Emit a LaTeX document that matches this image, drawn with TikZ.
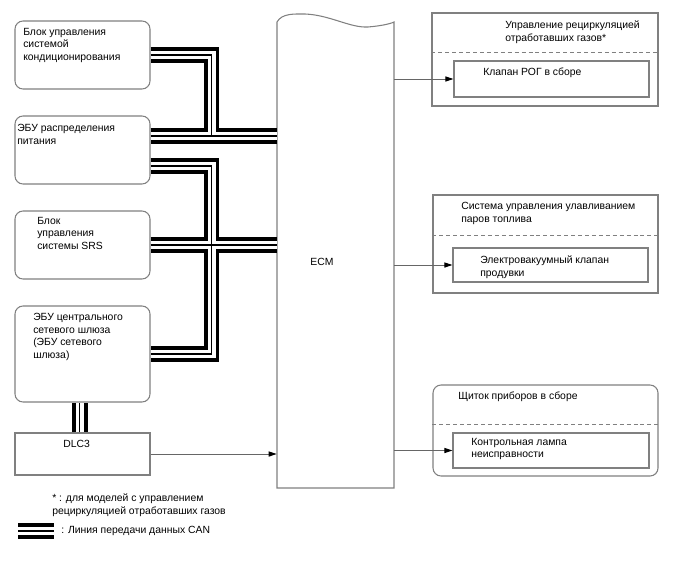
\documentclass[tikz,border=0pt]{standalone}
\usepackage{fontspec}
\setmainfont{Liberation Sans}
\usetikzlibrary{arrows.meta,fit,calc}

\begin{document}
\begin{tikzpicture}[
    x=0.75pt,
    y=-0.75pt,
    every path/.style={line cap=butt,line join=miter},
    unit/.style={draw=black!50,line width=0.8pt,inner sep=0pt},
    softunit/.style={unit,rounded corners=6pt},
    txt/.style={inner sep=0pt,anchor=north west,align=left,
      font=\fontsize{7.8}{9.4}\selectfont},
    sigline/.style={draw=black!60,line width=0.75pt,
      -{Triangle[length=6pt,width=3.8pt,color=black]}},
    divider/.style={draw=black!50,line width=0.75pt,dash pattern=on 3pt off 2.2pt},
    canouter/.style={line width=11.5pt,black},
    canwhite/.style={line width=6pt,white},
    caninner/.style={line width=0.9pt,black}
  ]
    \useasboundingbox (0,0) rectangle (688,560);

    % Control units on the CAN bus.
    \node[softunit,fit={(15,21) (150,89)}] (ac) {};
    \node[softunit,fit={(15,116) (150,184)}] (pwr) {};
    \node[softunit,fit={(15,211) (150,279)}] (srs) {};
    \node[softunit,fit={(15,306) (150,402)}] (gw) {};
    \node[unit,fit={(15,433) (150,475)}] (dlc) {};
    \node[txt] (ac-txt) at (23,28) {Блок управления\\системой\\кондиционирования};
    \node[txt] (pwr-txt) at (17,124) {ЭБУ распределения\\питания};
    \node[txt] (srs-txt) at (37,217) {Блок\\управления\\системы SRS};
    \node[txt] (gw-txt) at (33,313) {ЭБУ центрального\\сетевого шлюза\\(ЭБУ сетевого\\шлюза)};
    \node[txt] (dlc-txt) at (63,440) {DLC3};

    % Engine control module, torn top edge.
    \draw[draw=black!50,line width=0.8pt]
      (277,488) -- (277,22)
      .. controls (282,13) and (295,14) .. (305,14)
      .. controls (330,15) and (350,28) .. (368,27)
      .. controls (380,26) and (390,24) .. (394,22)
      -- (394,488) -- cycle;
    \node[inner sep=0pt,fit={(277,22) (394,488)}] (ecm) {};
    \node[txt,anchor=center] (ecm-txt) at (322,262) {ECM};

    % Controlled systems with their actuators.
    \node[unit,fit={(432,13) (658,106)}] (egr) {};
    \node[unit,fit={(454,61) (649,97)}] (egrv) {};
    \node[unit,fit={(433,195) (658,293)}] (evap) {};
    \node[unit,fit={(453,248) (648,282)}] (vsv) {};
    \node[softunit,fit={(433,385) (658,476)}] (combo) {};
    \node[unit,fit={(453,433) (649,468)}] (mil) {};
    \draw[divider] (egr.west |- 0,53) -- (egr.east |- 0,53);
    \draw[divider] (evap.west |- 0,235) -- (evap.east |- 0,235);
    \draw[divider] (combo.west |- 0,424) -- (combo.east |- 0,424);
    \node[txt] (egr-txt) at (505,21) {Управление рециркуляцией\\отработавших газов*};
    \node[txt] (egrv-txt) at (483,68) {Клапан РОГ в сборе};
    \node[txt] (evap-txt) at (461,202) {Система управления улавливанием\\паров топлива};
    \node[txt] (vsv-txt) at (480,256) {Электровакуумный клапан\\продувки};
    \node[txt] (combo-txt) at (458,392) {Щиток приборов в сборе};
    \node[txt] (mil-txt) at (471,438) {Контрольная лампа\\неисправности};

    % Signal wires.
    \draw[sigline] (dlc.east) -- (dlc.east -| ecm.west);
    \draw[sigline] (egrv.west -| ecm.east) -- (egrv.west);
    \draw[sigline] (vsv.west -| ecm.east) -- (vsv.west);
    \draw[sigline] (mil.west -| ecm.east) -- (mil.west);

    % CAN bus, drawn in three passes so that joints merge.
    \coordinate (key-a) at (18,531);
    \coordinate (key-b) at (54,531);
    \foreach \layer in {canouter,canwhite,caninner}{%
      \draw[\layer] (ac.east) -| ($(pwr.east)+(61,-14)$);
      \draw[\layer] ($(pwr.east)+(0,-14)$) -- ($(pwr.east -| ecm.west)+(0,-14)$);
      \draw[\layer] ($(pwr.east)+(0,16)$) -| ($(gw.east)+(61,0)$) -- (gw.east);
      \draw[\layer] (srs.east) -- (srs.east -| ecm.west);
      \draw[\layer] ([xshift=-2pt]dlc.north) -- ([xshift=-2pt]gw.south);
      \draw[\layer] (key-a) -- (key-b);
    }

    % Legend.
    \node[txt] (note) at (52,494) {* : для моделей с управлением\\рециркуляцией отработавших газов};
    \node[txt] (key-txt) at (61,526) {: Линия передачи данных CAN};
  \end{tikzpicture}
\end{document}
